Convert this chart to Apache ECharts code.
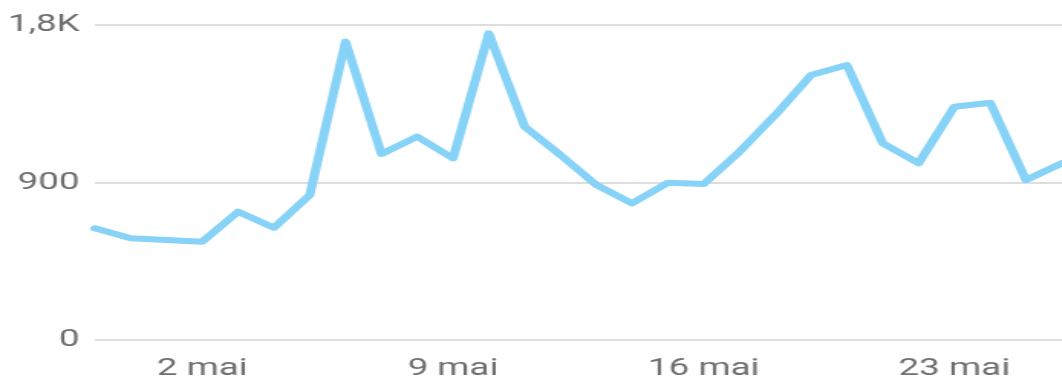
<!DOCTYPE html>
<html>
<head>
<meta charset="utf-8">
<script src="https://cdn.jsdelivr.net/npm/echarts@6/dist/echarts.min.js"></script>
<style>
  html, body { margin: 0; padding: 0; background: #fff; overflow: hidden; }
  /* the chart is laid out narrow and widened horizontally */
  #chart { width: 694px; height: 385px; transform: scaleX(1.53); transform-origin: 0 0; }
</style>
</head>
<body>
<div id="chart"></div>
<script>
// Daily values, 29 April to 26 May
const days = [
  '29 avr', '30 avr', '1 mai', '2 mai', '3 mai', '4 mai', '5 mai',
  '6 mai', '7 mai', '8 mai', '9 mai', '10 mai', '11 mai', '12 mai',
  '13 mai', '14 mai', '15 mai', '16 mai', '17 mai', '18 mai', '19 mai',
  '20 mai', '21 mai', '22 mai', '23 mai', '24 mai', '25 mai', '26 mai'
];
const values = [
  638, 581, 571, 562, 733, 642, 829,
  1705, 1063, 1162, 1038, 1752, 1219, 1057,
  886, 781, 899, 891, 1076, 1286, 1514,
  1571, 1124, 1010, 1333, 1356, 914, 1010
];
const yTicks = [0, 900, 1800];
const yTickLabels = ['0', '900', '1,8K'];

const chart = echarts.init(document.getElementById('chart'), null, { renderer: 'canvas', width: 694, height: 385 });
chart.setOption({
  animation: false,
  backgroundColor: '#ffffff',
  grid: { left: 62, right: 0, top: 25, bottom: 45, containLabel: false },
  xAxis: {
    type: 'category',
    data: days,
    boundaryGap: false,
    axisLine: { show: false },
    axisTick: { show: false },
    splitLine: { show: false },
    axisLabel: {
      interval: (i) => i % 7 === 3,
      margin: 17,
      color: '#6f6f6f',
      fontFamily: 'Roboto',
      fontSize: 24
    }
  },
  yAxis: {
    type: 'value',
    min: yTicks[0],
    max: yTicks[yTicks.length - 1],
    interval: yTicks[1] - yTicks[0],
    axisLine: { show: false },
    axisTick: { show: false },
    splitLine: { lineStyle: { color: '#dedede', width: 2 } },
    axisLabel: {
      margin: 10,
      color: '#6f6f6f',
      fontFamily: 'Roboto',
      fontSize: 24,
      formatter: (v) => yTickLabels[yTicks.indexOf(v)] ?? String(v)
    }
  },
  series: [{
    type: 'line',
    data: values,
    showSymbol: false,
    smooth: false,
    lineStyle: { color: '#86d3f7', width: 6, cap: 'round', join: 'round' }
  }]
});
</script>
</body>
</html>
